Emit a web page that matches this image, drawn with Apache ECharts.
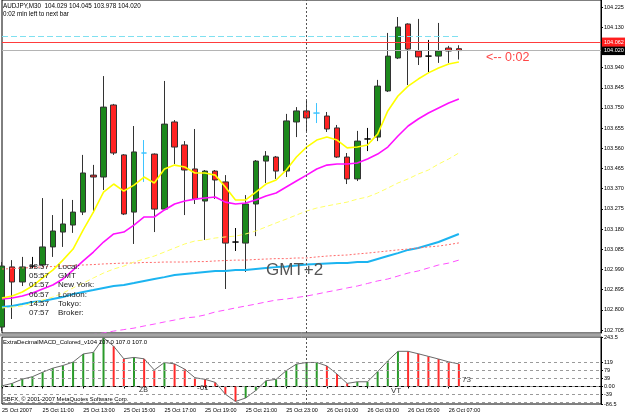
<!DOCTYPE html>
<html>
<head lang="en">
    <meta charset="UTF-8">
    <title>AUDJPY,M30</title>
    <style>
        html, body { margin: 0; padding: 0; background: #fff; }
        #main { width: 625px; height: 415px; }
    </style>
</head>
<body>
<div id="main"></div>
<script src="https://cdn.jsdelivr.net/npm/echarts@6/dist/echarts.min.js"></script>
<script>
    // bars, M30
    var barTimes = [
        '25 Oct 09:00','25 Oct 09:30','25 Oct 10:00','25 Oct 10:30','25 Oct 11:00','25 Oct 11:30',
        '25 Oct 12:00','25 Oct 12:30','25 Oct 13:00','25 Oct 13:30','25 Oct 14:00','25 Oct 14:30',
        '25 Oct 15:00','25 Oct 15:30','25 Oct 16:00','25 Oct 16:30','25 Oct 17:00','25 Oct 17:30',
        '25 Oct 18:00','25 Oct 18:30','25 Oct 19:00','25 Oct 19:30','25 Oct 20:00','25 Oct 20:30',
        '25 Oct 21:00','25 Oct 21:30','25 Oct 22:00','25 Oct 22:30','25 Oct 23:00','25 Oct 23:30',
        '26 Oct 00:00','26 Oct 00:30','26 Oct 01:00','26 Oct 01:30','26 Oct 02:00','26 Oct 02:30',
        '26 Oct 03:00','26 Oct 03:30','26 Oct 04:00','26 Oct 04:30','26 Oct 05:00','26 Oct 05:30',
        '26 Oct 06:00','26 Oct 06:30','26 Oct 07:00','26 Oct 07:30'
    ];
    var tickLabels = ['25 Oct 2007','25 Oct 11:00','25 Oct 13:00','25 Oct 15:00','25 Oct 17:00','25 Oct 19:00',
        '25 Oct 21:00','25 Oct 23:00','26 Oct 01:00','26 Oct 03:00','26 Oct 05:00','26 Oct 07:00'];

    var barOpen  = [102.719,103.002,102.931,103.006,103.011,103.096,103.166,103.199,103.260,103.434,
                    103.425,103.764,103.529,103.260,103.538,103.533,103.274,103.684,103.576,103.463,
                    103.312,103.453,103.402,103.119,103.114,103.298,103.500,103.519,103.453,103.684,
                    103.736,103.726,103.712,103.656,103.519,103.416,103.604,103.613,103.830,103.985,
                    104.145,104.018,103.994,103.994,104.032,104.029];
    var barClose = [103.006,102.931,103.002,103.006,103.096,103.171,103.204,103.260,103.444,103.425,
                    103.754,103.538,103.251,103.543,103.538,103.274,103.674,103.566,103.458,103.322,
                    103.453,103.411,103.114,103.119,103.298,103.500,103.524,103.453,103.689,103.736,
                    103.703,103.726,103.651,103.519,103.416,103.594,103.604,103.853,103.994,104.131,
                    104.027,103.990,103.994,104.018,104.018,104.020];
    var barLow   = [102.700,102.757,102.912,102.997,103.002,103.049,103.096,103.162,103.246,103.256,
                    103.364,103.529,103.246,103.110,103.402,103.166,103.270,103.486,103.246,103.298,
                    103.129,103.322,102.898,103.077,102.978,103.147,103.397,103.416,103.425,103.613,
                    103.637,103.679,103.637,103.515,103.392,103.406,103.547,103.594,103.825,103.980,
                    103.858,103.952,103.919,103.962,103.962,103.978];
    var barHigh  = [103.025,103.034,103.049,103.049,103.326,103.246,103.322,103.317,103.529,103.482,
                    103.900,103.769,103.533,103.665,103.599,103.536,103.877,103.693,103.594,103.651,
                    103.458,103.458,103.434,103.185,103.340,103.505,103.547,103.524,103.722,103.754,
                    103.792,103.773,103.731,103.670,103.538,103.642,103.656,103.882,104.103,104.178,
                    104.148,104.169,104.070,104.150,104.042,104.045];
    var dojiDark = [3, 23, 36, 42];
    var dojiCyan = [14, 31];

    // moving averages
    var maYellow = [102.856,102.865,102.884,102.912,102.950,102.987,103.034,103.086,103.176,103.260,
                    103.354,103.392,103.359,103.387,103.425,103.397,103.463,103.481,103.472,103.444,
                    103.444,103.434,103.378,103.317,103.317,103.354,103.392,103.411,103.458,103.519,
                    103.566,103.599,103.613,103.599,103.562,103.566,103.576,103.627,103.736,103.806,
                    103.853,103.886,103.915,103.938,103.957,103.966];
    var maMagenta = [102.851,102.856,102.865,102.879,102.898,102.917,102.945,102.987,103.030,103.072,
                    103.119,103.157,103.166,103.199,103.237,103.237,103.270,103.298,103.312,103.321,
                    103.326,103.331,103.307,103.298,103.303,103.317,103.336,103.350,103.378,103.406,
                    103.434,103.463,103.481,103.486,103.486,103.491,103.510,103.533,103.566,103.618,
                    103.665,103.698,103.726,103.750,103.773,103.792];
    var maPale   = [102.809,102.813,102.818,102.832,102.846,102.860,102.879,102.903,102.926,102.950,
                    102.973,102.992,103.006,103.025,103.039,103.053,103.072,103.091,103.110,103.124,
                    103.129,103.138,103.143,103.147,103.157,103.171,103.190,103.209,103.227,103.246,
                    103.265,103.279,103.289,103.298,103.307,103.321,103.331,103.350,103.373,103.397,
                    103.416,103.439,103.458,103.486,103.510,103.538];
    var maCyan   = [102.813,102.818,102.827,102.837,102.842,102.851,102.860,102.874,102.884,102.893,
                    102.903,102.912,102.917,102.926,102.936,102.945,102.954,102.964,102.969,102.973,
                    102.978,102.983,102.983,102.987,102.987,102.992,102.997,103.001,103.004,103.009,
                    103.013,103.016,103.018,103.020,103.020,103.025,103.025,103.039,103.053,103.067,
                    103.082,103.091,103.105,103.119,103.138,103.157];
    var maRedDot = [102.992,102.994,102.997,102.999,103.002,103.004,103.006,103.009,103.011,103.013,
                    103.016,103.018,103.020,103.020,103.023,103.023,103.025,103.025,103.025,103.027,
                    103.027,103.030,103.032,103.034,103.034,103.037,103.039,103.041,103.041,103.044,
                    103.044,103.049,103.053,103.056,103.058,103.063,103.067,103.072,103.077,103.082,
                    103.086,103.091,103.096,103.100,103.107,103.115];
    var maPinkDash = [102.611,102.620,102.627,102.634,102.644,102.651,102.658,102.667,102.677,102.684,
                    102.691,102.700,102.707,102.714,102.724,102.733,102.743,102.752,102.762,102.766,
                    102.776,102.790,102.799,102.809,102.818,102.827,102.837,102.846,102.851,102.858,
                    102.865,102.874,102.884,102.893,102.903,102.912,102.924,102.936,102.945,102.959,
                    102.973,102.983,102.997,103.011,103.020,103.034];

    var bidLine = 104.062;
    var lastClose = 104.020;
    var cyanLevel = 104.089;
    var priceTicks = [104.225,104.130,104.035,103.940,103.845,103.750,103.655,103.560,103.465,
                      103.370,103.275,103.180,103.085,102.990,102.895,102.800,102.705];

    // MACD panel
    var macdHist = [3,15,36,48,70,90,103,120,160,168,
                    240,198,136,143,136,81,118,111,85,43,
                    35,20,-38,-74,-57,-20,28,35,78,110,
                    118,118,101,61,15,23,23,73,126,173,
                    173,161,148,135,121,111];
    var macdUp = [1,1,1,1,1,1,1,1,1,1, 1,0,0,1,0,0,1,0,0,0,
                  0,0,0,0,1,1,1,1,1,1, 1,1,0,0,0,1,1,1,1,1,
                  0,0,0,0,0,0];
    var macdTicks = [243.5, 119, 79, 39, 0, -39, -86.5];
    var macdLevels = [119, 79, 39, 0, -39, -79];

    var zoneTimes = ['23:57','05:57','01:57','06:57','14:57','07:57'];
    var zoneNames = ['Local:','GMT','New York:','London:','Tokyo:','Broker:'];

    var FONT = 'Liberation Sans';

    // empty slots to the right of the last bar (chart shift)
    var slots = barTimes.slice();
    while (slots.length < 60) slots.push('f' + slots.length);

    var candles = [];
    for (var i = 0; i < barOpen.length; i++) {
        var item = {value: [barOpen[i], barClose[i], barLow[i], barHigh[i]]};
        if (dojiDark.indexOf(i) >= 0) item.itemStyle = {borderColor: '#000', borderColor0: '#000'};
        if (dojiCyan.indexOf(i) >= 0) item.itemStyle = {borderColor: '#3ec4ff', borderColor0: '#3ec4ff'};
        candles.push(item);
    }
    var histItems = macdHist.map(function (v, k) {
        return {value: v, itemStyle: {color: macdUp[k] ? '#2a9a2a' : '#ff2a2a'}};
    });
    var levelLines = macdLevels.map(function (v) {
        return {yAxis: v, lineStyle: {color: '#9a9a9a', type: [3, 3], width: 1}};
    });
    levelLines.push({xAxis: barTimes[30], lineStyle: {color: '#555', type: [2, 2], width: 1}});

    // a label every 2 hours, only under real bars
    function onTick(k) {
        return k < barTimes.length && k % 4 === 0;
    }

    function txt(x, y, s, size, color) {
        return {type: 'text', x: x, y: y, z: 100, silent: true,
            style: {text: s, fill: color, font: size + 'px "' + FONT + '"', verticalAlign: 'middle'}};
    }
    var graphics = [
        {type: 'rect', shape: {x: 0, y: 333.5, width: 601, height: 3}, style: {fill: '#a4a4a4'}, z: 50, silent: true},
        txt(3, 6.5, 'AUDJPY,M30  104.029 104.045 103.978 104.020', 6.3, '#000'),
        txt(3, 14.2, '0:02 min left to next bar', 6.3, '#000'),
        txt(266, 270, 'GMT+2', 17, '#555'),
        txt(486, 57.5, '<-- 0:02', 12.5, '#ff4646'),
        txt(3, 342.5, 'ExtraDecimalMACD_Colored_v104 107.0 107.0 107.0', 6, '#000'),
        txt(3, 399, 'SBFX, \u00a9 2001-2007 MetaQuotes Software Corp.', 5.8, '#000'),
        txt(139, 390.5, 'ZB', 7, '#333'),
        txt(197, 388, '-61', 8, '#333'),
        txt(391, 391, 'VT', 8, '#333'),
        txt(462, 380, '73', 8, '#444')
    ];
    var rowY = [266.5, 275.8, 285.1, 294.4, 303.7, 313];
    for (var r = 0; r < zoneTimes.length; r++) {
        graphics.push(txt(29, rowY[r], zoneTimes[r], 8, '#222'));
        graphics.push(txt(58, rowY[r], zoneNames[r], 8, '#222'));
    }

    var axisText = {fontSize: 5.5, color: '#000', fontFamily: FONT};
    var myChart = echarts.init(document.getElementById('main'));
    var option = {
        animation: false,
        backgroundColor: '#fff',
        textStyle: {fontFamily: FONT},
        grid: [
            {left: 2, top: 0, width: 599, height: 333, show: true, backgroundColor: '#fff',
                borderColor: '#000', borderWidth: 1, outerBoundsMode: 'none'},
            {left: 2, top: 337, width: 599, height: 67, show: true, backgroundColor: '#fff',
                borderColor: '#000', borderWidth: 1, outerBoundsMode: 'none'}
        ],
        xAxis: [
            {type: 'category', gridIndex: 0, data: slots, boundaryGap: false,
                axisLine: {show: false}, axisTick: {show: false}, axisLabel: {show: false}, splitLine: {show: false}},
            {type: 'category', gridIndex: 1, data: slots, boundaryGap: false,
                axisLine: {show: true, lineStyle: {color: '#000'}},
                axisTick: {show: true, interval: onTick, length: 2, lineStyle: {color: '#000'}},
                axisLabel: Object.assign({interval: onTick, align: 'left', margin: 3,
                    formatter: function (v, k) {
                        return onTick(k) ? tickLabels[k / 4] : '';
                    }}, axisText),
                splitLine: {show: false}}
        ],
        yAxis: [
            {type: 'value', gridIndex: 0, position: 'right', min: 102.691, max: 104.258, scale: true,
                axisLine: {show: true, lineStyle: {color: '#000'}},
                axisTick: {show: true, length: 2, customValues: priceTicks, lineStyle: {color: '#000'}},
                axisLabel: Object.assign({customValues: priceTicks, margin: 3,
                    formatter: function (v) { return v.toFixed(3); }}, axisText),
                splitLine: {show: false}},
            {type: 'value', gridIndex: 1, position: 'right', min: -86.5, max: 243.5,
                axisLine: {show: true, lineStyle: {color: '#000'}},
                axisTick: {show: true, length: 2, customValues: macdTicks, lineStyle: {color: '#000'}},
                axisLabel: Object.assign({customValues: macdTicks, margin: 3,
                    formatter: function (v) { return v === 0 ? '0.00' : String(v); }}, axisText),
                splitLine: {show: false}}
        ],
        series: [
            {
                type: 'candlestick', xAxisIndex: 0, yAxisIndex: 0, data: candles, barWidth: 6,
                itemStyle: {color: '#1c881c', color0: '#ff2222', borderColor: '#333',
                    borderColor0: '#333', borderColorDoji: '#000', borderWidth: 1},
                markLine: {
                    symbol: ['none', 'none'], silent: true, animation: false,
                    data: [
                        [{coord: [barTimes[0], cyanLevel]}, {coord: [barTimes[45], cyanLevel],
                            lineStyle: {color: '#7fe0f0', type: [6, 3], width: 1}, label: {show: false}}],
                        {yAxis: lastClose, lineStyle: {color: '#b4b4b4', type: 'solid', width: 1},
                            label: {show: true, position: 'end', distance: 1, formatter: lastClose.toFixed(3),
                                color: '#fff', backgroundColor: '#000', fontSize: 5.5, padding: [1.5, 2, 1.5, 2]}},
                        {yAxis: bidLine, lineStyle: {color: '#ff3c3c', type: 'solid', width: 1},
                            label: {show: true, position: 'end', distance: 1, formatter: bidLine.toFixed(3),
                                color: '#fff', backgroundColor: '#ff1e1e', fontSize: 5.5, padding: [1.5, 2, 1.5, 2]}}
                    ]
                }
            },
            {type: 'line', xAxisIndex: 0, yAxisIndex: 0, data: maCyan, showSymbol: false,
                lineStyle: {color: '#1cb4f0', width: 2}},
            {type: 'line', xAxisIndex: 0, yAxisIndex: 0, data: maRedDot, showSymbol: false,
                lineStyle: {color: '#ff6a6a', width: 1, type: [2, 2]}},
            {type: 'line', xAxisIndex: 0, yAxisIndex: 0, data: maPinkDash, showSymbol: false,
                lineStyle: {color: '#ff50ff', width: 1, type: [6, 4]}},
            {type: 'line', xAxisIndex: 0, yAxisIndex: 0, data: maPale, showSymbol: false,
                lineStyle: {color: '#ffff66', width: 1, type: [5, 3]}},
            {type: 'line', xAxisIndex: 0, yAxisIndex: 0, data: maMagenta, showSymbol: false,
                lineStyle: {color: '#ff10ff', width: 1.6}},
            {type: 'line', xAxisIndex: 0, yAxisIndex: 0, data: maYellow, showSymbol: false,
                lineStyle: {color: '#ffff00', width: 1.6},
                markLine: {symbol: ['none', 'none'], silent: true, animation: false, label: {show: false},
                    data: [{xAxis: barTimes[30], lineStyle: {color: '#555', type: [2, 2], width: 1}}]}},
            {type: 'bar', xAxisIndex: 1, yAxisIndex: 1, data: histItems, barWidth: 2,
                markLine: {symbol: ['none', 'none'], silent: true, animation: false, label: {show: false},
                    data: levelLines}},
            {type: 'line', xAxisIndex: 1, yAxisIndex: 1, data: macdHist, showSymbol: false,
                lineStyle: {color: '#6a6a6a', width: 1}}
        ],
        graphic: graphics
    };
    myChart.setOption(option);
</script>
</body>
</html>
